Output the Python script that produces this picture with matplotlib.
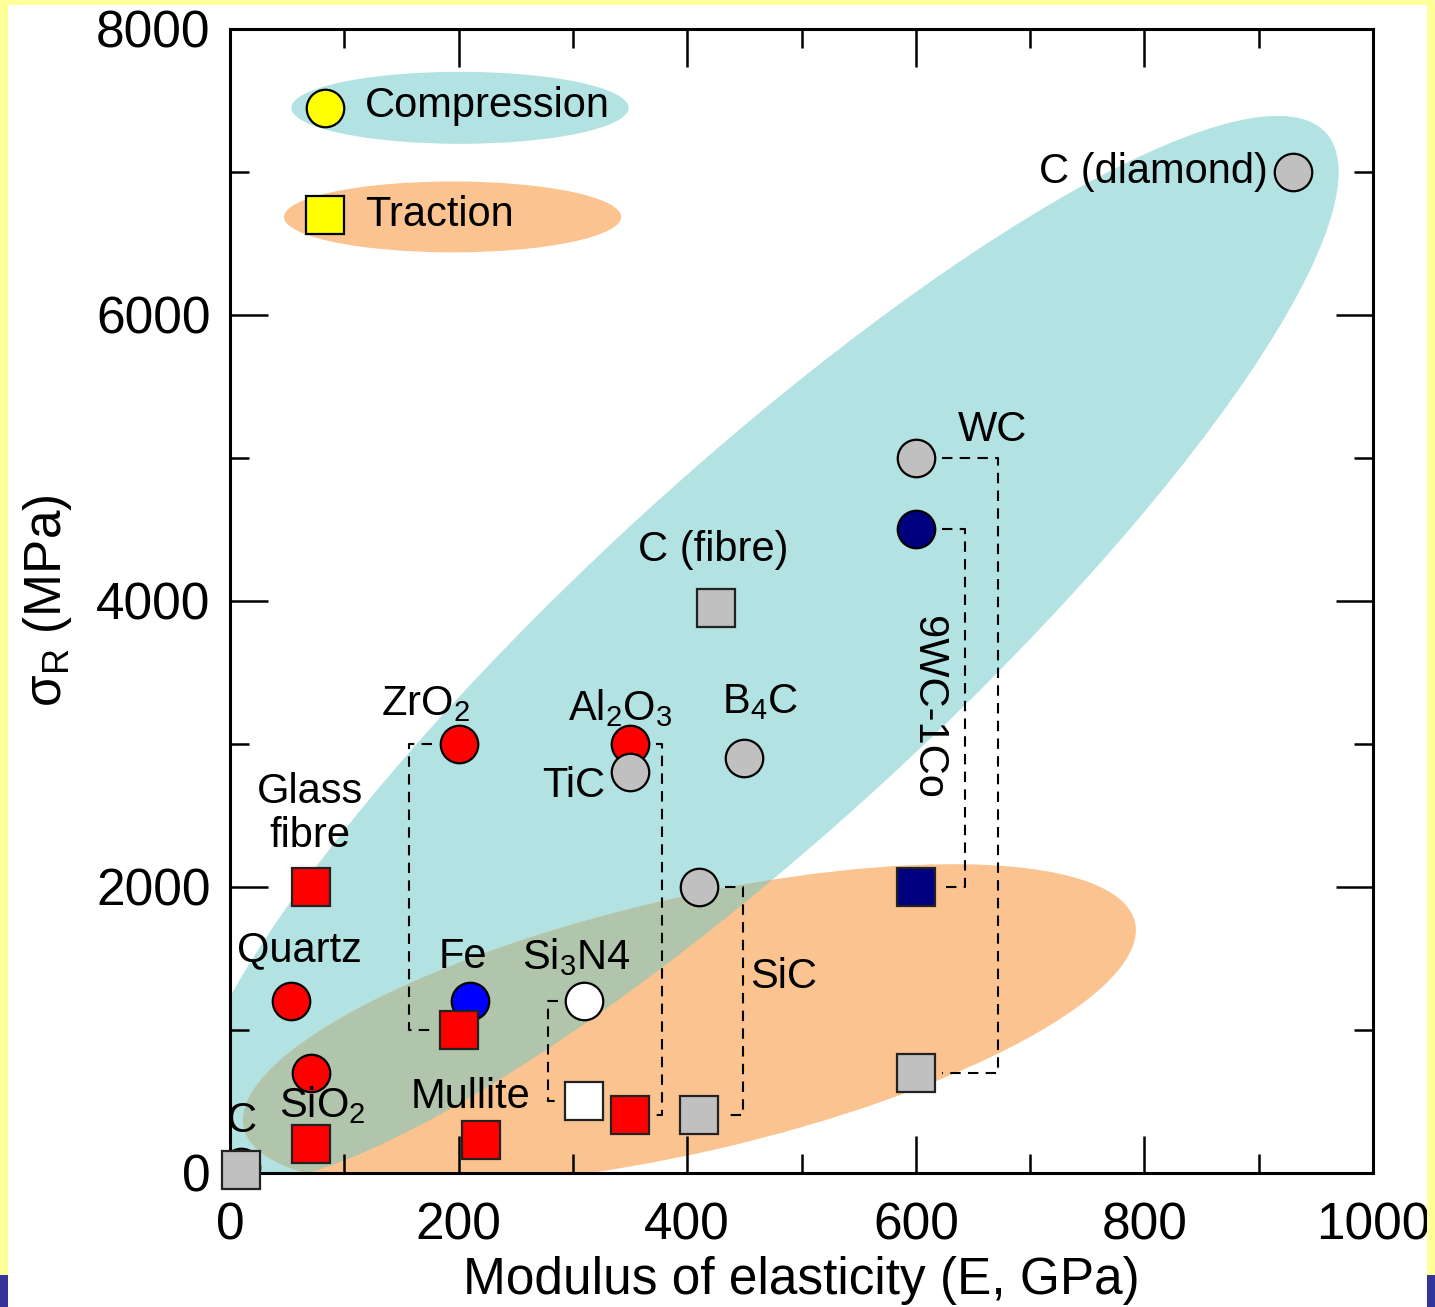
import numpy as np
import matplotlib.pyplot as plt
from matplotlib.patches import Ellipse, Polygon, Rectangle

plt.rcParams['font.family'] = ['Liberation Sans', 'DejaVu Sans']
plt.rcParams['mathtext.fontset'] = 'custom'
plt.rcParams['mathtext.rm'] = 'Liberation Sans'
plt.rcParams['mathtext.it'] = 'Liberation Sans'

# Compressive strength (circles)
comp_names = ['C (diamond)', 'WC', '9WC-1Co', 'B4C', 'TiC', 'Al2O3', 'ZrO2',
              'SiC', 'Si3N4', 'Fe', 'Quartz', 'SiO2', 'C']
comp_E = [930, 600, 600, 450, 350, 350, 200, 410, 310, 210, 53, 71, 10]
comp_sigma = [7000, 5000, 4500, 2900, 2800, 3000, 3000, 2000, 1200, 1200, 1200, 700, 40]
comp_colors = ['#c0c0c0', '#c0c0c0', '#000080', '#c0c0c0', '#c0c0c0', '#ff0000', '#ff0000',
               '#c0c0c0', '#ffffff', '#0000ff', '#ff0000', '#ff0000', '#c0c0c0']

# Tensile strength (squares)
trac_names = ['C (fibre)', 'Glass fibre', '9WC-1Co', 'WC', 'ZrO2', 'Si3N4', 'Al2O3',
              'SiC', 'Mullite', 'SiO2', 'C']
trac_E = [425, 71, 600, 600, 200, 310, 350, 410, 220, 71, 10]
trac_sigma = [3950, 2000, 2000, 700, 1000, 500, 400, 400, 230, 200, 15]
trac_colors = ['#c0c0c0', '#ff0000', '#000080', '#c0c0c0', '#ff0000', '#ffffff', '#ff0000',
               '#c0c0c0', '#ff0000', '#ff0000', '#c0c0c0']

# materials measured both ways, joined by a dashed bracket (side, reach in GPa)
brackets = [('ZrO2', -1, 43), ('Al2O3', 1, 28), ('Si3N4', -1, 32),
            ('SiC', 1, 39), ('9WC-1Co', 1, 43), ('WC', 1, 72)]

xticks = [0, 200, 400, 600, 800, 1000]
yticks = [0, 2000, 4000, 6000, 8000]

CYAN = '#b2e2e2'
ORANGE = '#fac38f'
OVERLAP = '#b0c5ab'


def ellipse_pts(cx, cy, w, h, ang, n=1440):
    t = np.linspace(0, 2 * np.pi, n, endpoint=False)
    a = np.deg2rad(ang)
    x = w / 2 * np.cos(t)
    y = h / 2 * np.sin(t)
    return np.column_stack([cx + x * np.cos(a) - y * np.sin(a),
                            cy + x * np.sin(a) + y * np.cos(a)])


def inside(pts, cx, cy, w, h, ang):
    a = np.deg2rad(ang)
    dx = pts[:, 0] - cx
    dy = pts[:, 1] - cy
    u = dx * np.cos(a) + dy * np.sin(a)
    v = -dx * np.sin(a) + dy * np.cos(a)
    return (u / (w / 2)) ** 2 + (v / (h / 2)) ** 2 <= 1


fig = plt.figure(figsize=(14.35, 13.07), dpi=100)
ax = fig.add_axes([0.1603, 0.1028, 0.7965, 0.8751])

# shaded regions (axes fraction, the axes box is square on screen)
comp_zone = (0.465, 0.457, 1.339, 0.315, 42.5)
trac_zone = (0.402, 0.129, 0.800, 0.222, 13.0)
ax.add_patch(Ellipse(comp_zone[:2], comp_zone[2], comp_zone[3], angle=comp_zone[4],
                     transform=ax.transAxes, facecolor=CYAN, edgecolor='none', zorder=0))
ax.add_patch(Ellipse(trac_zone[:2], trac_zone[2], trac_zone[3], angle=trac_zone[4],
                     transform=ax.transAxes, facecolor=ORANGE, edgecolor='none', zorder=0.5))

# overlap of the two zones as a convex polygon
pa = ellipse_pts(*comp_zone)
pb = ellipse_pts(*trac_zone)
pts = np.vstack([pa[inside(pa, *trac_zone)], pb[inside(pb, *comp_zone)]])
c = pts.mean(axis=0)
order = np.argsort(np.arctan2(pts[:, 1] - c[1], pts[:, 0] - c[0]))
ax.add_patch(Polygon(pts[order], closed=True, transform=ax.transAxes,
                     facecolor=OVERLAP, edgecolor='none', zorder=0.8))

# dashed brackets between compression and traction values
for name, side, reach in brackets:
    i = comp_names.index(name)
    j = trac_names.index(name)
    x0 = comp_E[i] + side * 23
    x1 = trac_E[j] + side * 23
    xb = comp_E[i] + side * reach
    ax.plot([x0, xb, xb, x1], [comp_sigma[i], comp_sigma[i], trac_sigma[j], trac_sigma[j]],
            color='black', lw=1.5, ls=(0, (5, 3.5)), zorder=1)

for x, y, col in zip(comp_E[::-1], comp_sigma[::-1], comp_colors[::-1]):
    ax.plot(x, y, 'o', ms=27, mfc=col, mec='black', mew=1.6, zorder=2, clip_on=False)
for x, y, col in zip(trac_E, trac_sigma, trac_colors):
    ax.plot(x, y, 's', ms=27, mfc=col, mec='#222222', mew=1.6, zorder=3, clip_on=False)

# material labels
fs = 30
labels = [
    ('C (diamond)', 908, 7000, 'right', 0),
    ('WC', 667, 5194, 'center', 0),
    ('9WC-1Co', 611, 3257, 'center', -90),
    ('C (fibre)', 423, 4354, 'center', 0),
    ('B$_4$C', 464, 3290, 'center', 0),
    ('Al$_2$O$_3$', 341, 3250, 'center', 0),
    ('ZrO$_2$', 171, 3275, 'center', 0),
    ('TiC', 301, 2703, 'center', 0),
    ('Glass\nfibre', 70, 2508, 'center', 0),
    ('Quartz', 61, 1556, 'center', 0),
    ('Fe', 204, 1508, 'center', 0),
    ('Si$_3$N4', 303, 1508, 'center', 0),
    ('SiC', 484, 1369, 'center', 0),
    ('Mullite', 210, 529, 'center', 0),
    ('SiO$_2$', 81, 470, 'center', 0),
    ('C', 10, 361, 'center', 0),
]
for txt, x, y, ha, rot in labels:
    ax.text(x, y, txt, fontsize=fs, ha=ha, va='center', rotation=rot,
            linespacing=1.15, zorder=4)

# legend
ax.add_patch(Ellipse((0.2012, 0.931), 0.295, 0.063, transform=ax.transAxes,
                     facecolor=CYAN, edgecolor='none', zorder=1))
ax.add_patch(Ellipse((0.1947, 0.8356), 0.295, 0.062, transform=ax.transAxes,
                     facecolor=ORANGE, edgecolor='none', zorder=1))
ax.plot(0.0831, 0.931, 'o', ms=27, mfc='#ffff00', mec='black', mew=1.6,
        transform=ax.transAxes, zorder=2)
ax.plot(0.0831, 0.8374, 's', ms=27, mfc='#ffff00', mec='black', mew=1.6,
        transform=ax.transAxes, zorder=2)
ax.text(0.118, 0.933, 'Compression', fontsize=fs, va='center', transform=ax.transAxes)
ax.text(0.118, 0.8374, 'Traction', fontsize=fs, va='center', transform=ax.transAxes)

ax.set_xlim(0, 1000)
ax.set_ylim(0, 8000)
ax.set_xticks(xticks)
ax.set_yticks(yticks)
ax.set_xticks(np.arange(100, 1000, 200), minor=True)
ax.set_yticks(np.arange(1000, 8000, 2000), minor=True)
ax.tick_params(which='both', direction='in', top=True, right=True, labelsize=37, width=1.8)
ax.tick_params(which='major', length=27)
ax.tick_params(which='minor', length=14)
ax.tick_params(axis='x', pad=20.5)
ax.tick_params(axis='y', pad=14)
for s in ax.spines.values():
    s.set_linewidth(2.2)

ax.set_xlabel('Modulus of elasticity (E, GPa)', fontsize=37, labelpad=4)
ax.set_ylabel('σ$_\\mathregular{R}$ (MPa)', fontsize=37, labelpad=16)

# page frame
fig.patches.append(Rectangle((0, 1 - 5 / 1307), 1, 5 / 1307, transform=fig.transFigure,
                             facecolor='#ffff99', edgecolor='none'))
for x0 in (0, 1 - 8 / 1435):
    fig.patches.append(Rectangle((x0, 32 / 1307), 8 / 1435, 1 - 32 / 1307,
                                 transform=fig.transFigure, facecolor='#ffff99', edgecolor='none'))
    fig.patches.append(Rectangle((x0, 0), 8 / 1435, 32 / 1307,
                                 transform=fig.transFigure, facecolor='#333399', edgecolor='none'))

fig.savefig('out.png', dpi=100)
